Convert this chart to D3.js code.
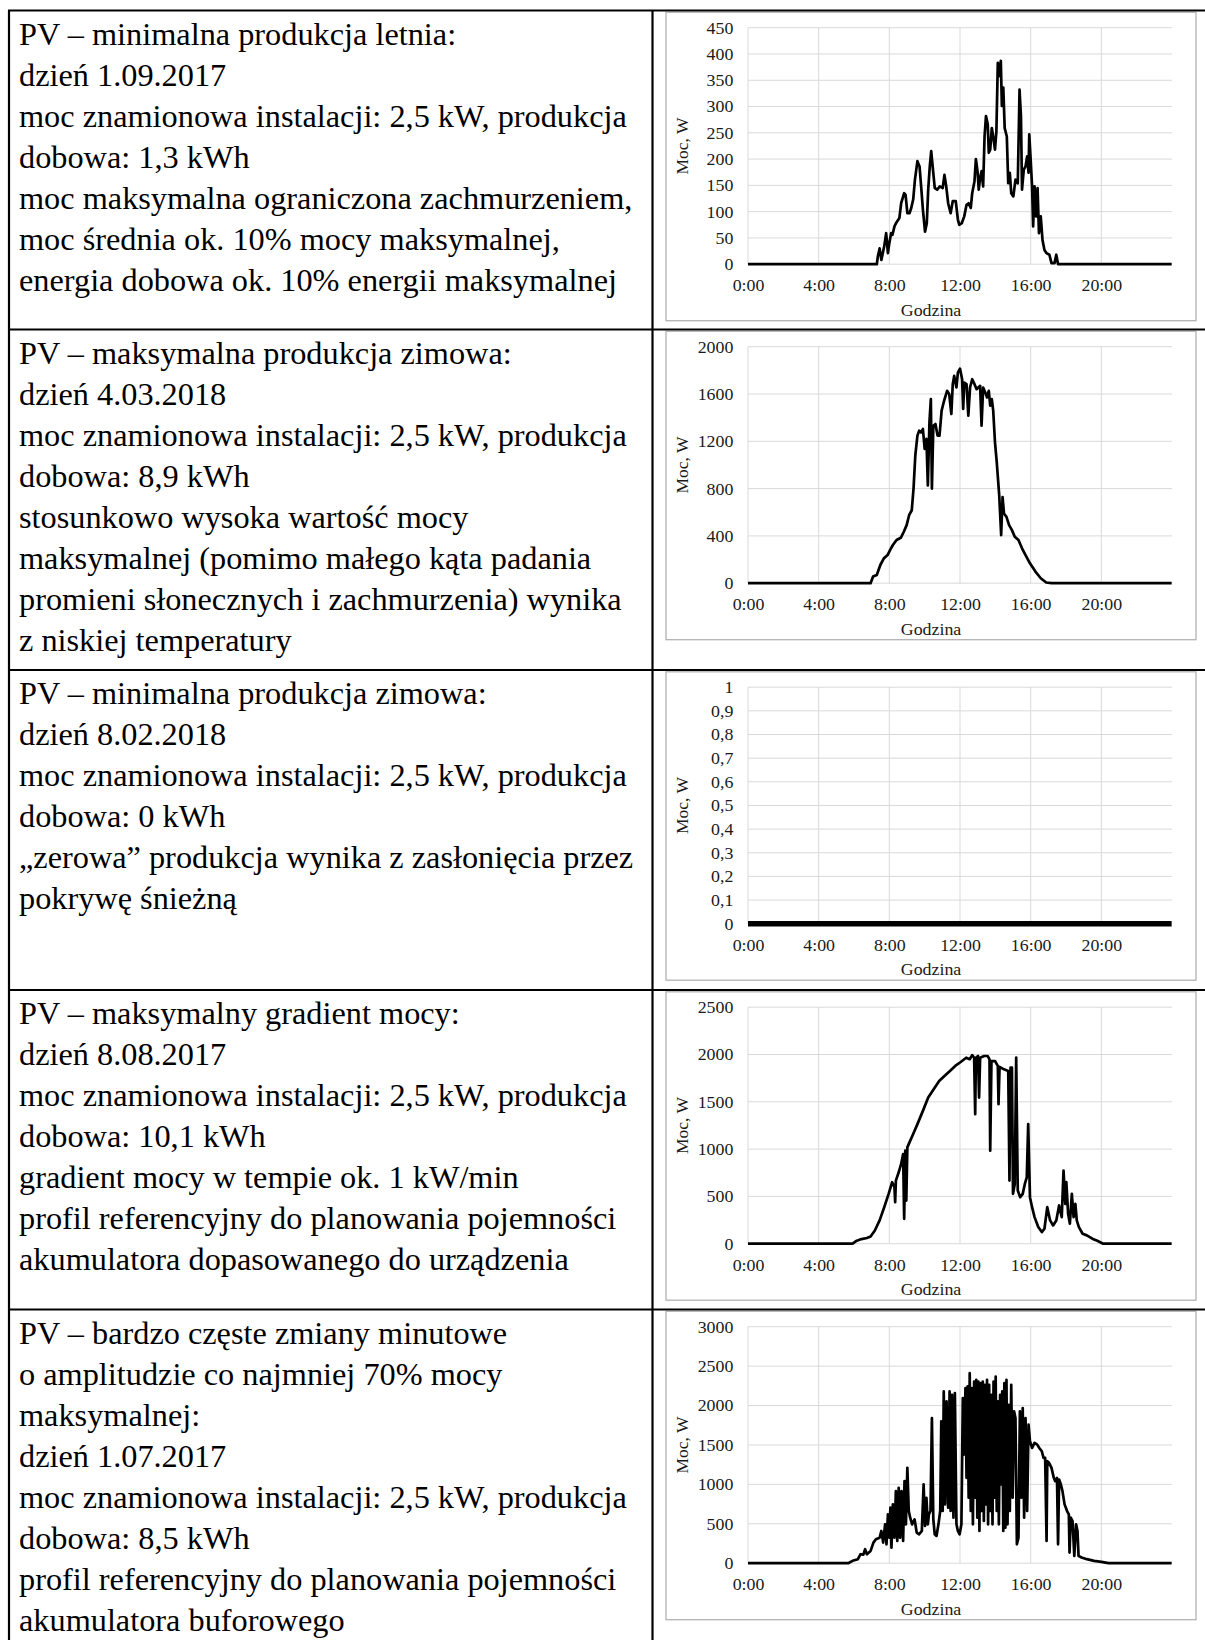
<!DOCTYPE html>
<html lang="pl">
<head>
<meta charset="utf-8">
<script src="https://cdn.jsdelivr.net/npm/d3@7/dist/d3.min.js"></script>
<style>
  html, body { margin: 0; padding: 0; background: #fff; }
  svg { display: block; }
</style>
</head>
<body>
<div id="tabela"></div>
<script>
// Dane: [godzina, moc W]
const lato_min_01_09_2017 = [
  [0,0],[7.29,0],[7.35,15],[7.45,30],[7.55,8],[7.71,34],[7.82,59],[7.92,21],[8.0,40],[8.1,59],[8.18,56],
  [8.29,72],[8.41,80],[8.57,88],[8.67,116],[8.84,135],[8.92,132],[9.02,97],[9.14,97],[9.24,107],[9.35,123],
  [9.45,161],[9.59,196],[9.71,186],[9.8,148],[9.9,104],[10.02,62],[10.12,78],[10.2,142],[10.29,186],[10.37,215],
  [10.47,180],[10.57,145],[10.71,142],[10.86,148],[11.02,145],[11.12,170],[11.22,148],[11.33,116],[11.47,97],
  [11.59,120],[11.76,120],[11.88,85],[11.96,75],[12.1,78],[12.24,91],[12.37,113],[12.49,116],[12.61,107],
  [12.69,135],[12.82,158],[12.9,200],[13.0,174],[13.06,142],[13.14,164],[13.22,177],[13.31,148],[13.39,243],
  [13.47,282],[13.57,266],[13.63,212],[13.71,218],[13.8,259],[13.88,243],[13.98,218],[14.06,252],[14.14,383],
  [14.22,358],[14.31,387],[14.37,301],[14.45,336],[14.53,259],[14.65,243],[14.73,154],[14.82,174],[14.9,135],
  [15.02,129],[15.14,161],[15.27,154],[15.37,332],[15.45,282],[15.51,142],[15.61,180],[15.71,186],[15.8,205],
  [15.88,174],[15.92,247],[16.0,199],[16.08,148],[16.14,72],[16.22,148],[16.31,91],[16.39,145],[16.47,59],
  [16.57,91],[16.67,46],[16.78,27],[16.9,21],[17.06,18],[17.18,2],[17.35,2],[17.45,18],[17.55,0],[23.98,0]
];

const zima_max_04_03_2018 = [
  [0,0],[6.94,0],[7.08,56],[7.29,70],[7.49,154],[7.69,210],[7.9,238],[8.04,280],[8.2,323],[8.41,365],
  [8.65,384],[8.82,435],[8.98,491],[9.12,575],[9.27,617],[9.37,800],[9.47,1080],[9.59,1248],[9.69,1290],
  [9.8,1275],[9.9,1304],[10.0,1136],[10.1,1220],[10.18,827],[10.27,1360],[10.35,1557],[10.41,800],[10.49,1332],
  [10.61,1346],[10.73,1248],[10.84,1248],[10.96,1459],[11.1,1543],[11.27,1627],[11.39,1599],[11.51,1431],
  [11.59,1683],[11.67,1753],[11.8,1655],[11.88,1781],[12.0,1815],[12.12,1725],[12.18,1473],[12.24,1697],
  [12.37,1683],[12.47,1417],[12.57,1655],[12.69,1725],[12.82,1683],[12.94,1641],[13.04,1655],[13.14,1669],
  [13.22,1332],[13.31,1655],[13.43,1613],[13.53,1571],[13.63,1627],[13.71,1501],[13.8,1557],[13.88,1459],
  [13.98,1192],[14.08,1024],[14.22,743],[14.33,407],[14.41,729],[14.49,589],[14.63,561],[14.78,491],
  [14.94,449],[15.1,393],[15.31,365],[15.51,295],[15.71,238],[15.96,168],[16.27,98],[16.57,42],[16.88,6],
  [17.18,0],[23.98,0]
];

const zima_min_08_02_2018 = [[0,0],[23.98,0]];

const gradient_08_08_2017 = [
  [0,0],[5.92,0],[6.12,28],[6.43,49],[6.73,60],[6.94,77],[7.18,140],[7.45,246],[7.71,386],[7.96,527],
  [8.16,650],[8.29,597],[8.33,439],[8.37,667],[8.53,755],[8.67,843],[8.78,948],[8.84,263],[8.9,983],[8.96,456],
  [9.02,1018],[9.14,1071],[9.35,1159],[9.59,1264],[9.9,1404],[10.2,1545],[10.51,1633],[10.82,1720],[11.12,1773],
  [11.43,1826],[11.73,1879],[12.04,1921],[12.35,1966],[12.55,1950],[12.69,1994],[12.8,1966],[12.86,1369],
  [12.9,1966],[13.02,1984],[13.08,1545],[13.14,1966],[13.37,1984],[13.57,1984],[13.67,1949],[13.71,983],
  [13.78,1931],[13.98,1931],[14.14,1879],[14.18,1475],[14.24,1870],[14.49,1843],[14.73,1826],[14.8,667],
  [14.86,1861],[14.94,1861],[15.0,527],[15.1,632],[15.18,1966],[15.27,562],[15.41,492],[15.55,527],[15.67,632],
  [15.78,702],[15.86,1264],[15.96,492],[16.08,386],[16.22,281],[16.43,176],[16.63,123],[16.78,158],[16.94,386],
  [17.1,246],[17.27,193],[17.45,246],[17.61,404],[17.76,281],[17.86,772],[17.96,421],[18.02,650],[18.12,316],
  [18.22,211],[18.33,527],[18.43,281],[18.53,421],[18.61,246],[18.73,176],[18.94,105],[19.18,88],[19.49,53],
  [19.8,28],[20.1,0],[23.98,0]
];

const zmiany_01_07_2017 = [
  [0,0],[5.67,0],[5.92,30],[6.22,51],[6.37,114],[6.53,108],[6.63,177],[6.73,114],[6.94,156],[7.1,261],[7.24,303],
  [7.45,324],[7.55,409],[7.65,261],[7.76,493],[7.84,240],[7.92,620],[8.0,324],[8.06,704],[8.12,198],[8.2,746],
  [8.29,324],[8.37,914],[8.45,282],[8.53,957],[8.61,324],[8.69,914],[8.78,282],[8.86,1041],[8.94,493],[9.02,1209],
  [9.1,662],[9.18,577],[9.29,493],[9.43,556],[9.55,388],[9.69,367],[9.84,409],[9.94,999],[10.02,472],[10.1,830],
  [10.18,493],[10.24,620],[10.33,662],[10.41,1842],[10.49,556],[10.57,367],[10.67,346],[10.78,493],[10.88,662],
  [10.94,1799],[11.02,662],[11.08,2179],[11.16,746],[11.24,2052],[11.33,704],[11.41,2179],[11.47,662],[11.55,2137],
  [11.63,577],[11.71,2158],[11.8,493],[11.88,409],[11.98,367],[12.08,493],[12.16,2094],[12.22,1378],[12.31,2221],
  [12.37,1083],[12.43,2242],[12.49,830],[12.55,2410],[12.61,662],[12.67,2221],[12.73,493],[12.8,2305],[12.86,830],
  [12.92,2326],[12.98,577],[13.04,2305],[13.1,409],[13.16,2284],[13.22,662],[13.29,2305],[13.35,535],[13.41,2263],
  [13.47,746],[13.53,2326],[13.59,493],[13.65,2263],[13.71,662],[13.78,2137],[13.84,493],[13.9,2305],[13.96,830],
  [14.02,2368],[14.08,662],[14.14,2052],[14.2,493],[14.27,2137],[14.33,999],[14.39,2179],[14.45,409],[14.51,2284],
  [14.57,451],[14.63,2326],[14.69,493],[14.76,2010],[14.82,662],[14.9,2263],[14.98,830],[15.06,1926],[15.14,1842],
  [15.22,240],[15.31,324],[15.39,1926],[15.47,830],[15.55,1968],[15.63,577],[15.71,1842],[15.8,662],[15.88,1757],
  [15.96,1547],[16.08,1462],[16.22,1526],[16.37,1504],[16.49,1462],[16.63,1420],[16.73,1336],[16.82,1336],[16.9,282],
  [16.94,1294],[17.04,1273],[17.18,1209],[17.31,1083],[17.39,1041],[17.49,1083],[17.55,240],[17.61,1062],[17.71,999],
  [17.8,914],[17.92,746],[18.06,662],[18.16,620],[18.2,135],[18.27,577],[18.37,535],[18.47,93],[18.57,493],
  [18.65,409],[18.71,93],[18.88,72],[19.18,51],[19.59,30],[20.0,17],[20.41,0],[23.98,0]
];

// Podziałki osi
const godzinyTicks = [0, 4, 8, 12, 16, 20];
const ticksY_lato_min = [0, 50, 100, 150, 200, 250, 300, 350, 400, 450];
const ticksY_zima_max = [0, 400, 800, 1200, 1600, 2000];
const ticksY_zima_min = [0, 0.1, 0.2, 0.3, 0.4, 0.5, 0.6, 0.7, 0.8, 0.9, 1];
const ticksY_gradient = [0, 500, 1000, 1500, 2000, 2500];
const ticksY_zmiany = [0, 500, 1000, 1500, 2000, 2500, 3000];

// Teksty w lewej kolumnie
const opisy = [
  ["PV – minimalna produkcja letnia:",
   "dzień 1.09.2017",
   "moc znamionowa instalacji: 2,5 kW, produkcja",
   "dobowa: 1,3 kWh",
   "moc maksymalna ograniczona zachmurzeniem,",
   "moc średnia ok. 10% mocy maksymalnej,",
   "energia dobowa ok. 10% energii maksymalnej"],
  ["PV – maksymalna produkcja zimowa:",
   "dzień 4.03.2018",
   "moc znamionowa instalacji: 2,5 kW, produkcja",
   "dobowa: 8,9 kWh",
   "stosunkowo wysoka wartość mocy",
   "maksymalnej (pomimo małego kąta padania",
   "promieni słonecznych i zachmurzenia) wynika",
   "z niskiej temperatury"],
  ["PV – minimalna produkcja zimowa:",
   "dzień 8.02.2018",
   "moc znamionowa instalacji: 2,5 kW, produkcja",
   "dobowa: 0 kWh",
   "„zerowa” produkcja wynika z zasłonięcia przez",
   "pokrywę śnieżną"],
  ["PV – maksymalny gradient mocy:",
   "dzień 8.08.2017",
   "moc znamionowa instalacji: 2,5 kW, produkcja",
   "dobowa: 10,1 kWh",
   "gradient mocy w tempie ok. 1 kW/min",
   "profil referencyjny do planowania pojemności",
   "akumulatora dopasowanego do urządzenia"],
  ["PV – bardzo częste zmiany minutowe",
   "o amplitudzie co najmniej 70% mocy",
   "maksymalnej:",
   "dzień 1.07.2017",
   "moc znamionowa instalacji: 2,5 kW, produkcja",
   "dobowa: 8,5 kWh",
   "profil referencyjny do planowania pojemności",
   "akumulatora buforowego"]
];

const serie = [lato_min_01_09_2017, zima_max_04_03_2018, zima_min_08_02_2018, gradient_08_08_2017, zmiany_01_07_2017];
const ticksY = [ticksY_lato_min, ticksY_zima_max, ticksY_zima_min, ticksY_gradient, ticksY_zmiany];

(function () {

    const W = 1205, H = 1640;
    const svg = d3.select('#tabela')
        .append('svg')
        .attr('width', W)
        .attr('height', H)
        .style('background', '#fff');

    // Górne krawędzie wierszy tabeli
    const rowTops = [10.5, 329.5, 670, 990, 1309.5];
    const leftX = 9;
    const colX = 652.5;

    // Wykresy: geometria
    const plotL = 748, plotR = 1172;
    const plotH = 236.5;
    const frameL = 666, frameR = 1196;
    const fontSerif = "'Liberation Serif', 'Times New Roman', serif";
    const fs = 17;
    const sx = 1.05; // tekst na wykresach jest lekko rozciągnięty

    const x = d3.scaleLinear().domain([0, 24]).range([plotL, plotR]);

    serie.forEach((dane, i) => {
        const top = rowTops[i];
        const plotT = top + 17.2;
        const plotB = plotT + plotH;
        const ticks = ticksY[i];
        const y = d3.scaleLinear()
            .domain([0, d3.max(ticks)])
            .range([plotB, plotT]);

        const g = svg.append('g');

        // ramka wykresu
        g.append('rect')
            .attr('x', frameL)
            .attr('y', top + 1.8)
            .attr('width', frameR - frameL)
            .attr('height', plotB + 56.5 - (top + 1.8))
            .attr('fill', '#fff')
            .attr('stroke', '#b3b3b3')
            .attr('stroke-width', 1.3);

        // siatka pozioma
        g.selectAll('.gy')
            .data(ticks)
            .enter().append('line')
            .attr('x1', plotL).attr('x2', plotR)
            .attr('y1', d => y(d)).attr('y2', d => y(d))
            .attr('stroke', '#d9d9d9')
            .attr('stroke-width', 1);

        // siatka pionowa
        g.selectAll('.gx')
            .data(godzinyTicks)
            .enter().append('line')
            .attr('x1', d => x(d)).attr('x2', d => x(d))
            .attr('y1', plotT).attr('y2', plotB)
            .attr('stroke', '#d9d9d9')
            .attr('stroke-width', 1);

        // oś Y
        const axY = g.append('g')
            .attr('transform', `translate(${plotL},0)`)
            .call(d3.axisLeft(y)
                .tickValues(ticks)
                .tickSize(0)
                .tickPadding(14)
                .tickFormat(d => String(d).replace('.', ',')));
        axY.select('.domain').remove();
        axY.selectAll('text')
            .attr('font-family', fontSerif)
            .attr('font-size', fs)
            .attr('fill', '#1a1a1a')
            .attr('transform', `scale(${sx},1)`);

        // oś X
        const axX = g.append('g')
            .attr('transform', `translate(0,${plotB})`)
            .call(d3.axisBottom(x)
                .tickValues(godzinyTicks)
                .tickSize(0)
                .tickPadding(15)
                .tickFormat(d => d + ':00'));
        axX.select('.domain').remove();
        axX.selectAll('text')
            .attr('font-family', fontSerif)
            .attr('font-size', fs)
            .attr('fill', '#1a1a1a')
            .attr('transform', `scale(${sx},1)`);

        // tytuły osi
        g.append('text')
            .attr('transform', `translate(${(frameL + frameR) / 2},${plotB + 51.5}) scale(${sx},1)`)
            .attr('text-anchor', 'middle')
            .attr('font-family', fontSerif)
            .attr('font-size', fs)
            .attr('fill', '#1a1a1a')
            .text('Godzina');

        g.append('text')
            .attr('transform', `translate(${688},${(plotT + plotB) / 2}) rotate(-90)`)
            .attr('text-anchor', 'middle')
            .attr('font-family', fontSerif)
            .attr('font-size', fs + 0.5)
            .attr('fill', '#1a1a1a')
            .text('Moc, W');

        // linia mocy
        const line = d3.line()
            .x(d => x(d[0]))
            .y(d => y(d[1]));

        g.append('path')
            .datum(dane)
            .attr('d', line)
            .attr('fill', 'none')
            .attr('stroke', '#000')
            .attr('stroke-width', dane.length > 2 ? 2.7 : 5.5)
            .attr('stroke-linejoin', 'round');
    });

    // Tekst w lewej kolumnie
    opisy.forEach((linie, i) => {
        svg.append('g')
            .selectAll('text')
            .data(linie)
            .enter().append('text')
            .attr('x', 19)
            .attr('y', (d, j) => rowTops[i] + 34 + j * 41)
            .attr('font-family', fontSerif)
            .attr('font-size', 32.3)
            .attr('fill', '#000')
            .text(d => d);
    });

    // Linie tabeli
    const lines = svg.append('g')
        .attr('stroke', '#000')
        .attr('stroke-width', 2.2);

    rowTops.forEach(t => {
        lines.append('line')
            .attr('x1', leftX - 1).attr('x2', W)
            .attr('y1', t).attr('y2', t);
    });

    lines.append('line')
        .attr('x1', leftX).attr('x2', leftX)
        .attr('y1', rowTops[0]).attr('y2', H);

    lines.append('line')
        .attr('x1', colX).attr('x2', colX)
        .attr('y1', rowTops[0]).attr('y2', H);
})();
</script>
</body>
</html>
